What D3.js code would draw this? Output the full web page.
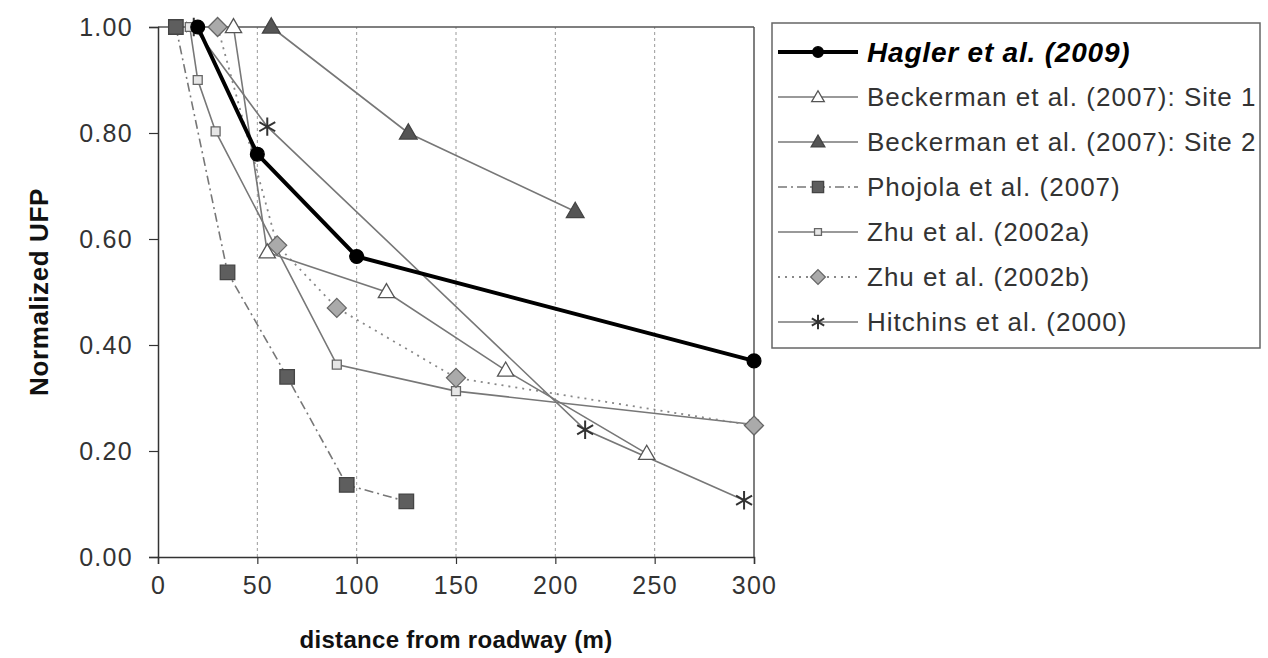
<!DOCTYPE html>
<html lang="en">
<head>
<meta charset="UTF-8">
<title>Normalized UFP vs distance from roadway</title>
<script src="https://d3js.org/d3.v7.min.js"></script>
<style>
    body { margin: 0; background: white; }
    svg { display: block; font-family: "Liberation Sans", Arial, sans-serif; }
</style>
</head>
<body>
<div id="chart"></div>
<script>
// ---- data ----
const xTicks = [0, 50, 100, 150, 200, 250, 300];
const yTicks = [0, 0.2, 0.4, 0.6, 0.8, 1.0];
const gridX = [50, 100, 150, 200, 250];

const seriesNames = [
    "Hagler et al. (2009)",
    "Beckerman et al. (2007): Site 1",
    "Beckerman et al. (2007): Site 2",
    "Phojola et al. (2007)",
    "Zhu et al. (2002a)",
    "Zhu et al. (2002b)",
    "Hitchins et al. (2000)"
];

const haglerX = [20, 50, 100, 300];
const haglerY = [1.00, 0.76, 0.567, 0.37];
const beck1X = [38, 55, 115, 175, 246];
const beck1Y = [1.00, 0.575, 0.50, 0.352, 0.195];
const beck2X = [57, 126, 210];
const beck2Y = [1.00, 0.80, 0.652];
const phojolaX = [9, 35, 65, 95, 125];
const phojolaY = [1.00, 0.537, 0.34, 0.136, 0.105];
const zhuAX = [16, 20, 29, 90, 150, 300];
const zhuAY = [1.00, 0.90, 0.803, 0.363, 0.313, 0.25];
const zhuBX = [30, 60, 90, 150, 300];
const zhuBY = [1.00, 0.588, 0.47, 0.338, 0.248];
const hitchX = [18, 55, 215, 295];
const hitchY = [1.00, 0.812, 0.24, 0.107];

const width = 1268, height = 658;
const margin = {left: 158, right: 514, top: 27, bottom: 101};

const svg = d3.select("#chart").append("svg")
    .attr("width", width)
    .attr("height", height);

const x = d3.scaleLinear().domain([0, 300]).range([margin.left, width - margin.right]);
const y = d3.scaleLinear().domain([0, 1]).range([height - margin.bottom, margin.top]);

// vertical dotted gridlines
svg.append("g").selectAll("line")
    .data(gridX)
    .enter().append("line")
    .attr("x1", d => x(d)).attr("x2", d => x(d))
    .attr("y1", y(0)).attr("y2", y(1))
    .attr("stroke", "#9a9a9a")
    .attr("stroke-width", 1)
    .attr("stroke-dasharray", "3,3");

// frame top + right
svg.append("line")
    .attr("x1", x(0)).attr("x2", x(300)).attr("y1", y(1)).attr("y2", y(1))
    .attr("stroke", "#555").attr("stroke-width", 1.5);
svg.append("line")
    .attr("x1", x(300)).attr("x2", x(300)).attr("y1", y(0)).attr("y2", y(1))
    .attr("stroke", "#555").attr("stroke-width", 1.5);

// axes
const xAxis = svg.append("g")
    .attr("transform", `translate(0,${y(0)})`)
    .call(d3.axisBottom(x).tickValues(xTicks).tickSize(7).tickPadding(12).tickFormat(d3.format("d")));
const yAxis = svg.append("g")
    .attr("transform", `translate(${x(0)},0)`)
    .call(d3.axisLeft(y).tickValues(yTicks).tickSize(9).tickPadding(16).tickFormat(d3.format(".2f")));

[xAxis, yAxis].forEach(g => {
    g.select(".domain").attr("stroke", "#333").attr("stroke-width", 1.5);
    g.selectAll(".tick line").attr("stroke", "#333").attr("stroke-width", 1.2);
    g.selectAll(".tick text")
        .attr("fill", "#333")
        .style("font-size", "25px")
        .style("letter-spacing", "1.3px")
        .style("font-family", "'Liberation Sans', Arial, sans-serif");
});

// axis titles
svg.append("text")
    .attr("x", (x(0) + x(300)) / 2)
    .attr("y", 648)
    .attr("text-anchor", "middle")
    .style("font-size", "24px")
    .style("font-weight", "bold")
    .style("letter-spacing", "0.3px")
    .attr("fill", "#111")
    .text("distance from roadway (m)");

svg.append("text")
    .attr("transform", `translate(48,${(y(0) + y(1)) / 2}) rotate(-90)`)
    .attr("text-anchor", "middle")
    .style("font-size", "26px")
    .style("font-weight", "bold")
    .style("letter-spacing", "0.6px")
    .attr("fill", "#111")
    .text("Normalized UFP");

// series styling
const diamond = {draw(ctx, size) {
    const r = Math.sqrt(size / 2);
    ctx.moveTo(0, -r); ctx.lineTo(r, 0); ctx.lineTo(0, r); ctx.lineTo(-r, 0); ctx.closePath();
}};

const styles = [
    {xs: haglerX, ys: haglerY, stroke: "#000", width: 4, dash: null,
     symbol: d3.symbolCircle, size: 150, fill: "#000", mstroke: "#000"},
    {xs: beck1X, ys: beck1Y, stroke: "#777", width: 1.6, dash: null,
     symbol: d3.symbolTriangle, size: 115, fill: "#fff", mstroke: "#555"},
    {xs: beck2X, ys: beck2Y, stroke: "#777", width: 1.6, dash: null,
     symbol: d3.symbolTriangle, size: 135, fill: "#555", mstroke: "#444"},
    {xs: phojolaX, ys: phojolaY, stroke: "#777", width: 1.6, dash: "9,4,2,4",
     symbol: d3.symbolSquare, size: 210, fill: "#5e5e5e", mstroke: "#444"},
    {xs: zhuAX, ys: zhuAY, stroke: "#777", width: 1.6, dash: null,
     symbol: d3.symbolSquare, size: 80, fill: "#e6e6e6", mstroke: "#666"},
    {xs: zhuBX, ys: zhuBY, stroke: "#888", width: 1.8, dash: "2,5",
     symbol: diamond, size: 180, fill: "#aaa", mstroke: "#666"},
    {xs: hitchX, ys: hitchY, stroke: "#777", width: 1.6, dash: null,
     symbol: d3.symbolAsterisk, size: 240, fill: "none", mstroke: "#333"}
];

const line = d3.line().x(d => x(d[0])).y(d => y(d[1]));

function drawMarker(g, s, cx, cy) {
    g.append("path")
        .attr("d", d3.symbol().type(s.symbol).size(s.size)())
        .attr("transform", `translate(${cx},${cy + (s.symbol === d3.symbolTriangle ? 1 : 0)})`)
        .attr("fill", s.fill)
        .attr("stroke", s.mstroke)
        .attr("stroke-width", s.symbol === d3.symbolAsterisk ? 2 : 1.3);
}

// draw order so Hagler sits on top
const order = [6, 4, 5, 3, 2, 1, 0];
order.forEach(i => {
    const s = styles[i];
    const pts = s.xs.map((v, k) => [v, s.ys[k]]);
    const g = svg.append("g");
    g.append("path")
        .datum(pts)
        .attr("d", line)
        .attr("fill", "none")
        .attr("stroke", s.stroke)
        .attr("stroke-width", s.width)
        .attr("stroke-dasharray", s.dash);
    pts.forEach(p => drawMarker(g, s, x(p[0]), y(p[1])));
});

// legend
const legX = 772, legY = 23, legW = 488, legH = 325;
const legend = svg.append("g");
legend.append("rect")
    .attr("x", legX).attr("y", legY)
    .attr("width", legW).attr("height", legH)
    .attr("fill", "#fff")
    .attr("stroke", "#666")
    .attr("stroke-width", 1.5);

seriesNames.forEach((name, i) => {
    const s = styles[i];
    const cy = 52 + i * 45;
    const row = legend.append("g");
    row.append("line")
        .attr("x1", 778).attr("x2", 858)
        .attr("y1", cy).attr("y2", cy)
        .attr("stroke", s.stroke)
        .attr("stroke-width", s.width)
        .attr("stroke-dasharray", s.dash);
    const ms = Object.assign({}, s, {size: s.size * 0.6});
    drawMarker(row, ms, 818, cy);
    row.append("text")
        .attr("x", 867)
        .attr("y", cy)
        .attr("dy", "0.36em")
        .style("font-size", i === 0 ? "28px" : "26px")
        .style("letter-spacing", i === 0 ? "0.8px" : "1px")
        .style("font-weight", i === 0 ? "bold" : "normal")
        .style("font-style", i === 0 ? "italic" : "normal")
        .attr("fill", i === 0 ? "#000" : "#333")
        .text(name);
});
</script>
</body>
</html>
